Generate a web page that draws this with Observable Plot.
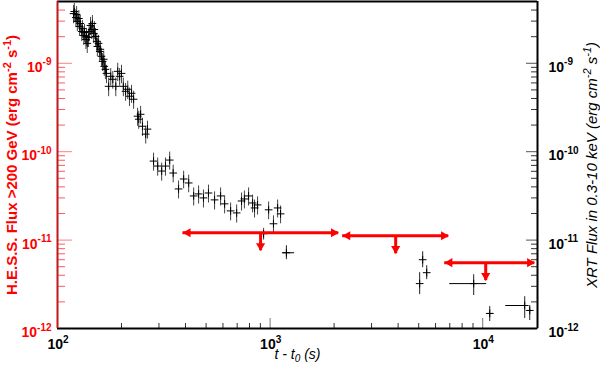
<!DOCTYPE html>
<html><head><meta charset="utf-8">
<script src="https://cdn.jsdelivr.net/npm/d3@7"></script>
<script src="https://cdn.jsdelivr.net/npm/@observablehq/plot@0.6"></script>
<style>
html,body{margin:0;padding:0;background:#fff;}
#chart{width:600px;height:366px;overflow:hidden}
svg{display:block}
</style></head><body><div id="chart"></div>
<script>
// XRT light curve (dense part): time since t0 (s), flux, symmetric flux error
const xrtTime = [119,120,122,123,124,126,127,128,130,131,133,134,136,137,138,140,141,143,145,146,148,149,151,153,154,156,158,159,161,163,165,166,168,170,174,178,182,188,192,196,200,204,209,214,218,223,228,238,241,246,251,260,265,
  283,296,309,322,337,350,371,392,414,437,461,486,513,548,585,611,652,696,734,757,792,827,845,873,932,984,1037,1085,1120];
const xrtFlux = [3.65e-9,3.85e-9,3.29e-9,3.56e-9,2.97e-9,3.21e-9,2.61e-9,2.82e-9,2.29e-9,2.47e-9,2.06e-9,2.23e-9,1.86e-9,2.01e-9,1.68e-9,1.96e-9,2.29e-9,2.68e-9,2.41e-9,2.82e-9,2.17e-9,2.41e-9,2.01e-9,1.77e-9,1.55e-9,1.68e-9,1.36e-9,1.44e-9,1.20e-9,1.05e-9,1.11e-9,9.23e-10,8.54e-10,7.69e-10,5.49e-10,7.12e-10,6.59e-10,5.49e-10,8.11e-10,7.12e-10,7.69e-10,5.49e-10,4.82e-10,5.08e-10,4.24e-10,4.58e-10,3.92e-10,2.52e-10,2.33e-10,2.65e-10,1.94e-10,1.58e-10,1.80e-10,
  7.83e-11,6.88e-11,6.04e-11,6.88e-11,8.04e-11,5.74e-11,3.79e-11,4.91e-11,4.43e-11,3.16e-11,3.33e-11,3.00e-11,3.41e-11,2.85e-11,3.16e-11,2.57e-11,2.14e-11,2.03e-11,2.77e-11,2.92e-11,3.16e-11,2.63e-11,2.31e-11,2.50e-11,1.18e-11,2.20e-11,1.53e-11,2.31e-11,1.98e-11];
const xrtErr = [0.85e-9,0.9e-9,0.76e-9,0.82e-9,0.68e-9,0.74e-9,0.6e-9,0.65e-9,0.53e-9,0.57e-9,0.47e-9,0.51e-9,0.43e-9,0.46e-9,0.39e-9,0.45e-9,0.53e-9,0.62e-9,0.55e-9,0.65e-9,0.5e-9,0.55e-9,0.46e-9,0.41e-9,0.36e-9,0.39e-9,0.31e-9,0.33e-9,0.28e-9,0.24e-9,0.26e-9,2.1e-10,2.0e-10,1.8e-10,1.3e-10,1.6e-10,1.5e-10,1.3e-10,1.9e-10,1.6e-10,1.8e-10,1.3e-10,1.1e-10,1.2e-10,1.0e-10,1.05e-10,0.9e-10,0.58e-10,0.54e-10,0.6e-10,0.45e-10,0.36e-10,0.41e-10,
  1.8e-11,1.6e-11,1.4e-11,1.6e-11,1.85e-11,1.3e-11,0.87e-11,1.1e-11,1.0e-11,0.73e-11,0.77e-11,0.69e-11,0.78e-11,0.66e-11,0.73e-11,0.59e-11,0.49e-11,0.47e-11,0.64e-11,0.67e-11,0.73e-11,0.6e-11,0.53e-11,0.58e-11,0.18e-11,0.5e-11,0.35e-11,0.53e-11,0.45e-11];

// XRT late points with time bins and asymmetric flux errors
const lateTime   = [1193, 5052, 5219, 5452, 9070, 10790, 15760, 16640];
const lateTimeLo = [1145, 5052, 5219, 5452, 6995, 10560, 12830, 16280];
const lateTimeHi = [1304, 5052, 5219, 5452, 10440, 11270, 16280, 17000];
const lateFlux   = [7.19e-12, 3.22e-12, 6.00e-12, 4.28e-12, 3.22e-12, 1.48e-12, 1.82e-12, 1.60e-12];
const lateFluxLo = [6.0e-12, 2.42e-12, 4.87e-12, 3.57e-12, 2.36e-12, 1.20e-12, 1.30e-12, 1.23e-12];
const lateFluxHi = [8.63e-12, 4.28e-12, 7.38e-12, 5.13e-12, 4.06e-12, 1.77e-12, 2.29e-12, 1.82e-12];

// H.E.S.S. upper limits
const hessLo  = [389, 2193, 6626];
const hessHi  = [2101, 6918, 17570];
const hessMid = [902, 3896, 10330];
const hessUL  = [1.21e-11, 1.12e-11, 5.55e-12];
const hessTip = [7.57e-12, 7.01e-12, 3.48e-12];

// axes
const xDomain = [100, 18100];
const yDomain = [1e-12, 5e-9];
const xMajor = [100, 1000, 10000];
const xMajorLabels = ["10^{2}", "10^{3}", "10^{4}"];
const yMajor = [1e-12, 1e-11, 1e-10, 1e-9];
const yMajorLabels = ["10^{-12}", "10^{-11}", "10^{-10}", "10^{-9}"];
const leftTitle = "H.E.S.S. Flux >200 GeV (erg cm^{-2} s^{-1})";
const rightTitle = "XRT Flux in 0.3-10 keV (erg cm^{-2} s^{-1})";
const xTitle = "t - t_{0} (s)";

const yMinor = [];
for (const e of [-12, -11, -10, -9]) for (let m = 2; m <= 9; m++) { const v = m * Math.pow(10, e); if (v <= yDomain[1]) yMinor.push(v); }
const xMinor = [];
for (const e of [2, 3, 4]) for (let m = 2; m <= 9; m++) { const v = m * Math.pow(10, e); if (v <= xDomain[1]) xMinor.push(v); }

const dense = xrtTime.map((t, i) => ({t, f: xrtFlux[i], lo: xrtFlux[i] - xrtErr[i], hi: xrtFlux[i] + xrtErr[i]}));
const late = lateTime.map((t, i) => ({t, t1: lateTimeLo[i], t2: lateTimeHi[i], f: lateFlux[i], lo: lateFluxLo[i], hi: lateFluxHi[i]}));
const ul = hessLo.map((lo, i) => ({lo, hi: hessHi[i], mid: hessMid[i], f: hessUL[i], tip: hessTip[i]}));

const RED = "#ff0000";
const noText = () => "";
const chart = Plot.plot({
  width: 600, height: 366,
  marginLeft: 57, marginRight: 63, marginTop: 1, marginBottom: 38,
  style: {fontFamily: "'Liberation Sans', Arial, Helvetica, sans-serif", background: "#fff", overflow: "visible"},
  x: {type: "log", domain: xDomain},
  y: {type: "log", domain: yDomain},
  marks: [
    // ticks (inward)
    Plot.axisY(yMinor, {anchor: "left", tickSize: -8, tickPadding: 0, tickFormat: noText, label: null, stroke: "#ff5a5a"}),
    Plot.axisY(yMajor, {anchor: "left", tickSize: -15, tickPadding: 0, tickFormat: noText, label: null, stroke: "#ff8080"}),
    Plot.axisY(yMinor, {anchor: "right", tickSize: -7, tickPadding: 0, tickFormat: noText, label: null, stroke: "#333"}),
    Plot.axisY(yMajor, {anchor: "right", tickSize: -12, tickPadding: 0, tickFormat: noText, label: null, stroke: "#555"}),
    Plot.axisX(xMinor, {anchor: "bottom", tickSize: -5, tickPadding: 0, tickFormat: noText, label: null, stroke: "#333"}),
    Plot.axisX(xMajor, {anchor: "bottom", tickSize: -10, tickPadding: 0, tickFormat: noText, label: null, stroke: "#777"}),
    // XRT data
    Plot.ruleX(dense, {x: "t", y1: "lo", y2: "hi", stroke: "#444", strokeWidth: 1}),
    Plot.dot(dense, {x: "t", y: "f", symbol: "plus", r: 2.6, stroke: "#000", strokeWidth: 1}),
    Plot.ruleX(late, {x: "t", y1: "lo", y2: "hi", stroke: "#222", strokeWidth: 1}),
    Plot.ruleY(late, {y: "f", x1: "t1", x2: "t2", stroke: "#000", strokeWidth: 1}),
    Plot.dot(late, {x: "t", y: "f", symbol: "plus", r: 2.6, stroke: "#000", strokeWidth: 1}),
    // H.E.S.S. upper limits
    Plot.ruleY(ul, {y: "f", x1: "lo", x2: "hi", stroke: RED, strokeWidth: 3}),
    Plot.ruleX(ul, {x: "mid", y1: "f", y2: "tip", stroke: RED, strokeWidth: 3}),
    Plot.dot(ul, {x: "lo", y: "f", symbol: "triangle", r: 3.4, fill: RED, stroke: null, rotate: -90, dx: 5}),
    Plot.dot(ul, {x: "hi", y: "f", symbol: "triangle", r: 3.4, fill: RED, stroke: null, rotate: 90, dx: -5}),
    Plot.dot(ul, {x: "mid", y: "tip", symbol: "triangle", r: 3.4, fill: RED, stroke: null, rotate: 180, dy: -5}),
    // frame
    Plot.ruleY([yDomain[1]], {stroke: "#000", strokeWidth: 2}),
    Plot.ruleY([yDomain[0]], {stroke: "#000", strokeWidth: 2}),
    Plot.ruleX([xDomain[1]], {stroke: "#000", strokeWidth: 2}),
    Plot.ruleX([xDomain[0]], {stroke: "#c01818", strokeWidth: 2}),
    // tick labels
    Plot.text(yMajor, {y: d => d, text: (d, i) => yMajorLabels[i], frameAnchor: "left", textAnchor: "end", lineAnchor: "middle", dx: -6, dy: 4, fill: RED, fontWeight: "bold", fontSize: 14}),
    Plot.text(yMajor, {y: d => d, text: (d, i) => yMajorLabels[i], frameAnchor: "right", textAnchor: "start", lineAnchor: "middle", dx: 11, dy: 4, fill: "#000", fontWeight: "bold", fontSize: 14}),
    Plot.text(xMajor, {x: d => d, text: (d, i) => xMajorLabels[i], frameAnchor: "bottom", textAnchor: "start", lineAnchor: "middle", dx: -10, dy: 16, fill: "#000", fontWeight: "bold", fontSize: 14}),
    // titles
    Plot.text([leftTitle], {text: d => d, frameAnchor: "left", rotate: -90, dx: -45, textAnchor: "middle", lineAnchor: "middle", fill: RED, fontWeight: "bold", fontSize: 15}),
    Plot.text([rightTitle], {text: d => d, frameAnchor: "right", rotate: -90, dx: 55, textAnchor: "middle", lineAnchor: "middle", fill: "#000", fontStyle: "italic", fontSize: 15}),
    Plot.text([xTitle], {text: d => d, frameAnchor: "bottom", dy: 26, textAnchor: "middle", lineAnchor: "middle", fill: "#000", fontStyle: "italic", fontSize: 14})
  ]
});
document.getElementById("chart").appendChild(chart);

// drop the empty tick-label texts produced by the tick-only axes
d3.select(chart).selectAll("text").filter(function () { return this.textContent === ""; }).remove();

// render ^{..} and _{..} as superscript / subscript tspans
d3.select(chart).selectAll("text").each(function () {
  const el = this;
  const s = el.textContent;
  if (!/[\^_]\{/.test(s)) return;
  const fs = parseFloat(getComputedStyle(el).fontSize) || 14;
  const small = Math.round(fs * 0.7);
  el.textContent = "";
  const re = /([\^_])\{([^}]*)\}/g;
  let last = 0, cur = 0, m;
  const add = (txt, off, size) => {
    const ts = d3.select(el).append("tspan").text(txt);
    const dy = off - cur;
    if (dy) ts.attr("dy", dy);
    if (size) ts.attr("font-size", size);
    cur = off;
  };
  while ((m = re.exec(s))) {
    if (m.index > last) add(s.slice(last, m.index), 0, null);
    add(m[2], m[1] === "^" ? -0.45 * fs : 0.25 * fs, small);
    last = re.lastIndex;
  }
  if (last < s.length) add(s.slice(last), 0, null);
});
</script>
</body></html>
